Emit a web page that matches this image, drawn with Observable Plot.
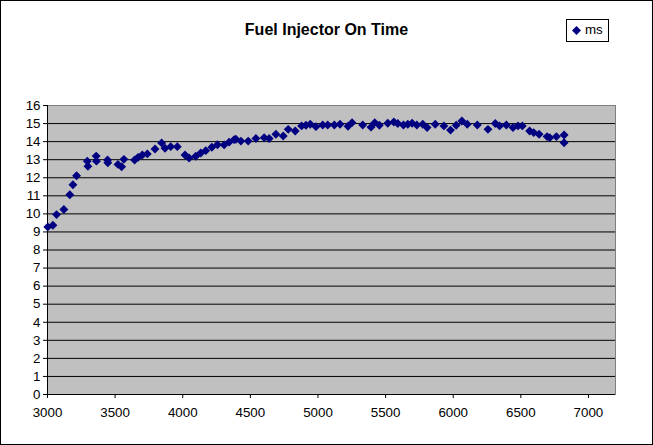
<!DOCTYPE html>
<html>
<head>
<meta charset="utf-8">
<script src="https://cdn.jsdelivr.net/npm/d3@7"></script>
<script src="https://cdn.jsdelivr.net/npm/@observablehq/plot@0.6"></script>
<style>
  html, body { margin: 0; padding: 0; background: #fff; }
  #wrap { position: relative; width: 653px; height: 445px; box-sizing: border-box; overflow: hidden; }
  #border { position: absolute; left: 0; top: 0; width: 653px; height: 445px; box-sizing: border-box; border: 1px solid #000; pointer-events: none; }
  #title { position: absolute; left: 0; width: 653px; top: 21px; text-align: center; font: bold 16px "Liberation Sans", Arial, sans-serif; color: #000; }
  #legend { position: absolute; left: 566px; top: 19px; width: 43px; height: 23px; box-sizing: border-box; border: 1px solid #000; background: #fff; font: 13.33px "Liberation Sans", Arial, sans-serif; }
  #legend svg { position: absolute; left: 5px; top: 6px; }
  #legend span { position: absolute; left: 18px; top: 2px; }
</style>
</head>
<body>
<div id="wrap">
  <div id="chart"></div>
  <div id="title">Fuel Injector On Time</div>
  <div id="legend"><svg width="9" height="9"><path d="M4.5 0L9 4.5L4.5 9L0 4.5Z" fill="#000080"/></svg><span>ms</span></div>
  <div id="border"></div>
</div>
<script>
const rpm = [3002, 3040, 3067, 3121, 3165, 3188, 3215, 3294, 3299, 3360, 3362, 3444, 3446, 3521, 3548, 3565, 3644, 3670, 3701, 3738, 3795, 3844, 3869, 3911, 3960, 4017, 4047, 4096, 4133, 4170, 4215, 4257, 4306, 4343, 4380, 4393, 4430, 4484, 4541, 4602, 4639, 4689, 4743, 4780, 4832, 4879, 4911, 4943, 4985, 5035, 5072, 5121, 5163, 5222, 5252, 5331, 5392, 5420, 5454, 5516, 5561, 5590, 5632, 5664, 5696, 5731, 5775, 5807, 5867, 5931, 5980, 6022, 6064, 6104, 6178, 6257, 6311, 6343, 6393, 6442, 6479, 6511, 6565, 6595, 6635, 6694, 6714, 6763, 6820, 6820];
const ms = [9.28, 9.37, 9.96, 10.24, 11.06, 11.61, 12.11, 12.92, 12.64, 13.2, 12.92, 12.98, 12.83, 12.74, 12.61, 13.02, 12.98, 13.13, 13.26, 13.32, 13.59, 13.93, 13.63, 13.72, 13.72, 13.26, 13.09, 13.19, 13.37, 13.5, 13.69, 13.83, 13.82, 13.97, 14.11, 14.13, 14.03, 14.03, 14.17, 14.22, 14.17, 14.41, 14.31, 14.68, 14.59, 14.87, 14.91, 14.96, 14.83, 14.92, 14.92, 14.92, 14.96, 14.85, 15.05, 14.92, 14.8, 15.05, 14.91, 15.02, 15.09, 15.0, 14.92, 14.96, 15.02, 14.92, 14.96, 14.78, 14.96, 14.87, 14.64, 14.91, 15.14, 14.96, 14.92, 14.68, 15.0, 14.87, 14.92, 14.78, 14.87, 14.87, 14.59, 14.5, 14.41, 14.28, 14.22, 14.28, 14.37, 13.94];
const xTicks = [3000, 3500, 4000, 4500, 5000, 5500, 6000, 6500, 7000];
const yTicks = [0, 1, 2, 3, 4, 5, 6, 7, 8, 9, 10, 11, 12, 13, 14, 15, 16];
const gridLines = [1, 2, 3, 4, 5, 6, 7, 8, 9, 10, 11, 12, 13, 14, 15];

const data = rpm.map((x, i) => ({x, y: ms[i]}));

const chart = Plot.plot({
  width: 653,
  height: 445,
  marginLeft: 47,
  marginRight: 38,
  marginTop: 105,
  marginBottom: 51,
  style: {background: "transparent", color: "#000", fontFamily: "'Liberation Sans', Arial, sans-serif", fontSize: "13.33px"},
  x: {domain: [3000, 7200]},
  y: {domain: [0, 16]},
  marks: [
    Plot.frame({fill: "#c0c0c0", stroke: "#808080"}),
    Plot.ruleY(gridLines, {stroke: "#000"}),
    Plot.ruleY([0], {stroke: "#000"}),
    Plot.ruleX([3000], {stroke: "#000"}),
    Plot.axisY({ticks: yTicks, tickSize: 4, tickPadding: 3, label: null, fontSize: 13.33}),
    Plot.axisX({ticks: xTicks, tickSize: 4, tickPadding: 9, label: null, tickFormat: d => String(d), fontSize: 13.33}),
    Plot.dot(data, {x: "x", y: "y", symbol: "diamond2", r: 4, fill: "#000080", stroke: "none"})
  ]
});
document.getElementById("chart").appendChild(chart);
</script>
</body>
</html>
